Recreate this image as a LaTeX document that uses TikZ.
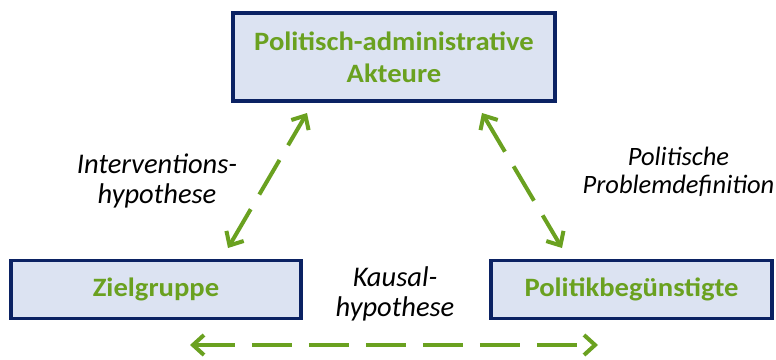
\documentclass[tikz,border=0pt]{standalone}
\usepackage{fontspec}
\setmainfont{Carlito}
\newfontfamily\boxfont[FakeStretch=1.08]{Carlito}
\usetikzlibrary{arrows.meta}
\definecolor{boxfill}{HTML}{DCE3F2}
\definecolor{boxline}{HTML}{0B2263}
\definecolor{txtgreen}{HTML}{6AA120}
\definecolor{arrgreen}{HTML}{6AA120}
\tikzset{
  actor/.style={draw=boxline, fill=boxfill, line width=3.5pt, inner sep=0pt,
    text=txtgreen, font=\boxfont\fontsize{26.5}{32}\selectfont\bfseries, align=center},
  relation/.style={font=\fontsize{28.5}{29.5}\selectfont\itshape, align=center, text=black, inner sep=0pt},
  link/.style={draw=arrgreen, line width=4pt, dash pattern=on 40pt off 17pt,
    {Straight Barb[length=11pt,width=20pt,line width=4pt]}-{Straight Barb[length=11pt,width=20pt,line width=4pt]}}
}
\begin{document}
\begin{tikzpicture}[x=1pt,y=-1pt]
\useasboundingbox (0,0) rectangle (776,359);
\node[actor, minimum width=322pt, minimum height=88pt] (pa) at (394,57) {Politisch-administrative\\Akteure};
\node[actor, minimum width=290pt, minimum height=58pt] (zg) at (156,289.5) {Zielgruppe};
\node[actor, minimum width=281pt, minimum height=58pt] (pb) at (631.5,289.5) {Politikbegünstigte};
\node[relation] (ih) at (157,181) {Interventions-\\hypothese};
\node[relation, font=\fontsize{26.5}{28.5}\selectfont\itshape] (pd) at (678.5,172) {Politische\\Problemdefinition};
\node[relation] (kh) at (395,294) {Kausal-\\hypothese};
\coordinate (l1) at (307,113);
\coordinate (l2) at (228,248);
\coordinate (r1) at (482,113);
\coordinate (r2) at (562,248);
\coordinate (b1) at (190,345);
\coordinate (b2) at (598,345);
\draw[link] (l2) -- (l1);
\draw[link] (r1) -- (r2);
\draw[link] (b1) -- (b2);
\end{tikzpicture}
\end{document}
